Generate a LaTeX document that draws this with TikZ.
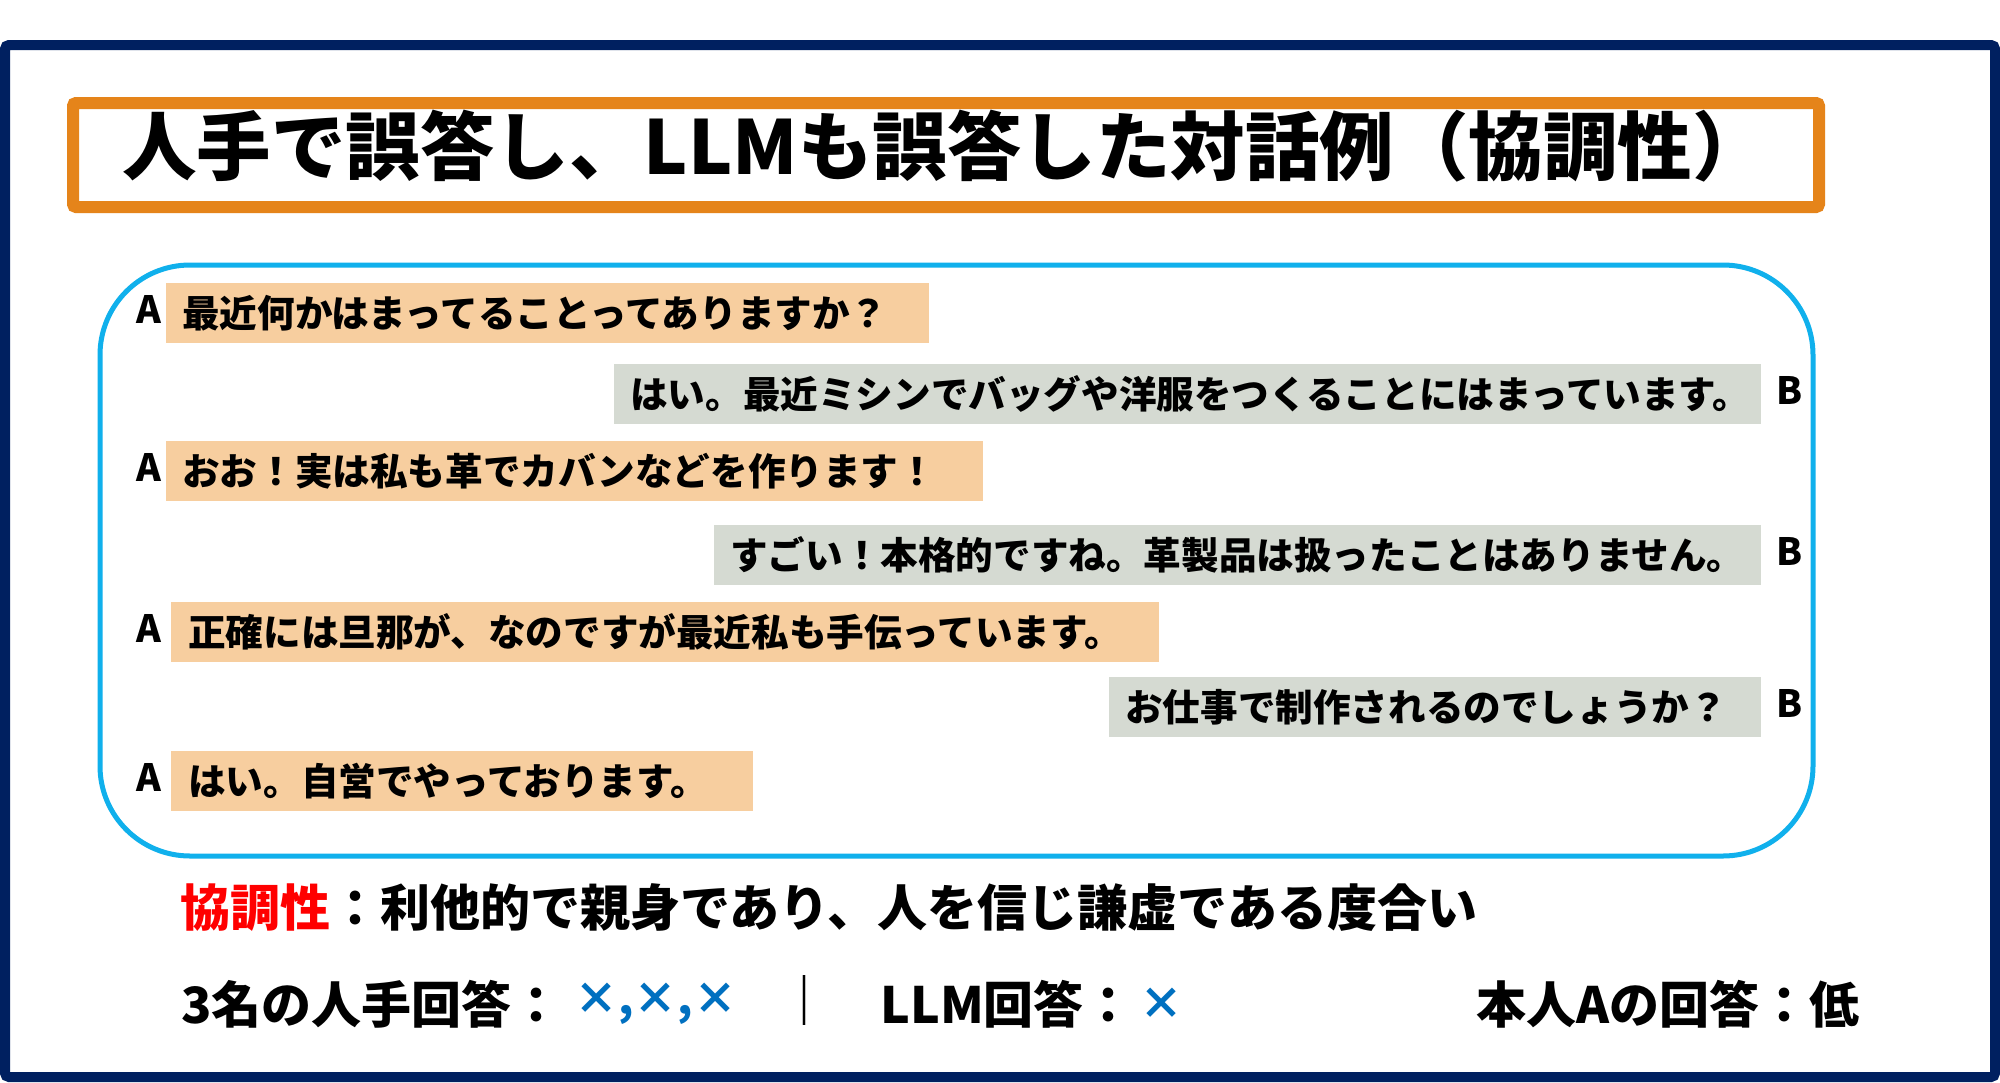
\documentclass[tikz,border=0pt]{standalone}
\usepackage{fontspec}
\setmainfont{Noto Sans CJK JP}
\newfontfamily\jpf{Noto Sans CJK JP}
\definecolor{navy}{HTML}{002060}
\definecolor{titleorange}{HTML}{E5841A}
\definecolor{cyanline}{HTML}{10B0EC}
\definecolor{peach}{HTML}{F7CE9F}
\definecolor{graybub}{HTML}{D5DAD2}
\definecolor{xblue}{HTML}{0070C0}
\definecolor{keyred}{HTML}{FF0000}
\newcommand{\dlgfont}{\jpf\bfseries\fontsize{37.6}{44}\selectfont}
\newcommand{\botfont}{\jpf\bfseries\fontsize{50}{58}\selectfont}
\newcommand{\xfont}{\jpf\bfseries\fontsize{44}{52}\selectfont}
\newcommand{\ttlfont}{\jpf\bfseries\fontsize{74.5}{86}\selectfont}
\newcommand{\up}[1]{\raisebox{3pt}{#1}}
\begin{document}
\begin{tikzpicture}[x=1pt,y=-1pt,
  bub/.style={inner xsep=16pt, inner ysep=0pt, minimum height=60pt, anchor=north west, align=left, font=\dlgfont, text=black},
  abub/.style={bub, fill=peach},
  bbub/.style={bub, fill=graybub},
  spk/.style={font=\dlgfont, inner sep=0pt, text=black},
  bottxt/.style={font=\botfont, inner sep=0pt, anchor=west, text=black},
  marktxt/.style={font=\xfont, inner sep=0pt, anchor=west, text=xblue}]
\useasboundingbox (0,0) rectangle (2000,1082);
\fill[white] (0,0) rectangle (2000,1082);
% outer navy frame
\draw[navy, line width=10pt, rounded corners=4pt] (5,45) rectangle (1995,1077);
% title box
\draw[titleorange, line width=12pt, rounded corners=3pt] (73,103) rectangle (1819,207);
\node[font=\ttlfont, inner sep=0pt, anchor=west] (title) at (122,146) {人手で誤答し、LLMも誤答した対話例（協調性）};
% dialogue frame
\draw[cyanline, line width=5pt, rounded corners=90pt] (100,265) rectangle (1813,856);
% bubbles
\node[abub, text width=731pt] (b1) at (166,283) {\up{最近何かはまってることってありますか？}};
\node[bbub, text width=1115pt] (b2) at (614,364) {\up{はい。最近ミシンでバッグや洋服をつくることにはまっています。}};
\node[abub, text width=785pt] (b3) at (166,441) {\up{おお！実は私も革でカバンなどを作ります！}};
\node[bbub, text width=1015pt] (b4) at (714,525) {\up{すごい！本格的ですね。革製品は扱ったことはありません。}};
\node[abub, inner xsep=17pt, text width=954pt] (b5) at (171,602) {\up{正確には旦那が、なのですが最近私も手伝っています。}};
\node[bbub, text width=620pt] (b6) at (1109,677) {\up{お仕事で制作されるのでしょうか？}};
\node[abub, inner xsep=17pt, text width=548pt] (b7) at (171,751) {\up{はい。自営でやっております。}};
% speaker labels
\node[spk] (s1) at (149,309) {A};
\node[spk] (s2) at (1790,390) {B};
\node[spk] (s3) at (149,467) {A};
\node[spk] (s4) at (1790,551) {B};
\node[spk] (s5) at (149,628) {A};
\node[spk] (s6) at (1790,703) {B};
\node[spk] (s7) at (149,777) {A};
% bottom texts
\node[bottxt] (def) at (180,908) {\textcolor{keyred}{協調性}：利他的で親身であり、人を信じ謙虚である度合い};
\node[bottxt] (hum) at (181,1004) {3名の人手回答：};
\node[marktxt] (humx) at (574,1004) {×,×,×};
\node[bottxt] (sep) at (779,1000) {｜};
\node[bottxt] (llm) at (880,1004) {LLM回答：};
\node[marktxt] (llmx) at (1139,1004) {×};
\node[bottxt] (self) at (1476,1004) {本人Aの回答：低};
\end{tikzpicture}
\end{document}
